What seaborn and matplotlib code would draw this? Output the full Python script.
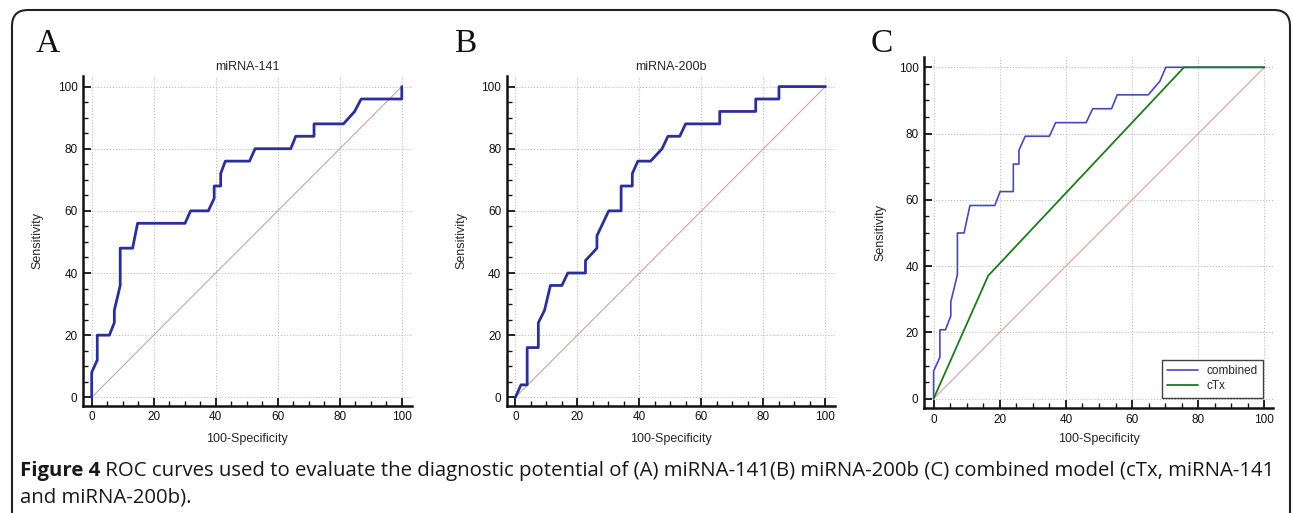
import matplotlib
matplotlib.use('Agg')
import matplotlib.pyplot as plt
import seaborn as sns
from matplotlib.ticker import MultipleLocator
from matplotlib.patches import FancyBboxPatch

# --- ROC data (x = 100-Specificity, y = Sensitivity) ---
a_fpr = [0, 0, 1.8, 1.8, 5.7, 7.3, 7.3, 9.2, 9.2, 13.2, 14.8, 30.1, 31.9, 37.6, 39.5,
         39.5, 41.6, 41.6, 43.1, 50.9, 52.7, 64.2, 65.8, 71.7, 71.7, 81.2, 84.8, 86.9, 100, 100]
a_tpr = [0, 8, 12, 20, 20, 24, 28, 36, 48, 48, 56, 56, 60, 60, 64,
         68, 68, 72, 76, 76, 80, 80, 84, 84, 88, 88, 92, 96, 96, 100]

b_fpr = [0, 1.8, 3.8, 3.8, 7.4, 7.4, 9.4, 11.3, 15.0, 16.9, 22.6, 22.6, 26.3, 26.3, 30.1, 34.1,
         34.1, 37.7, 37.7, 39.5, 43.6, 47.3, 49.2, 53.0, 54.9, 65.9, 65.9, 77.5, 77.5, 85.0, 85.0, 100]
b_tpr = [0, 4, 4, 16, 16, 24, 28, 36, 36, 40, 40, 44, 48, 52, 60, 60,
         68, 68, 72, 76, 76, 80, 84, 84, 88, 88, 92, 92, 96, 96, 100, 100]

comb_fpr = [0, 0, 1.9, 1.9, 3.6, 5.2, 5.2, 7.2, 7.2, 9.2, 11.0, 18.5, 20.1, 24.1, 24.1,
            25.8, 25.8, 27.7, 35.0, 36.9, 46.1, 48.1, 53.8, 55.5, 64.9, 68.4, 70.2, 100]
comb_tpr = [0, 8.3, 12.5, 20.8, 20.8, 25.0, 29.2, 37.5, 50.0, 50.0, 58.3, 58.3, 62.5, 62.5, 70.8,
            70.8, 75.0, 79.2, 79.2, 83.3, 83.3, 87.5, 87.5, 91.7, 91.7, 95.8, 100, 100]

ctx_fpr = [0, 16.5, 75.7, 100]
ctx_tpr = [0, 37.1, 100, 100]

diag = [0, 100]
ticks = [0, 20, 40, 60, 80, 100]

panel_titles = ['miRNA-141', 'miRNA-200b', '']
panel_letters = ['A', 'B', 'C']
caption_bold = 'Figure 4'
caption_rest = (' ROC curves used to evaluate the diagnostic potential of (A) miRNA-141(B) '
                'miRNA-200b (C) combined model (cTx, miRNA-141')
caption_line2 = 'and miRNA-200b).'

sns.set_style('white')
plt.rcParams['font.family'] = ['Liberation Sans', 'DejaVu Sans']

W, H = 1293, 513
fig = plt.figure(figsize=(W / 100, H / 100), dpi=100)


def px_axes(left, top, right, bottom):
    # axes from pixel box (origin top-left)
    return fig.add_axes([left / W, 1 - bottom / H, (right - left) / W, (bottom - top) / H])


def style_axes(ax, xlim, ylim, xlab_y, ylab_x):
    ax.set_xlim(*xlim)
    ax.set_ylim(*ylim)
    ax.set_xticks(ticks)
    ax.set_yticks(ticks)
    ax.xaxis.set_minor_locator(MultipleLocator(5))
    ax.yaxis.set_minor_locator(MultipleLocator(5))
    for s in ['top', 'right']:
        ax.spines[s].set_visible(False)
    for s in ['left', 'bottom']:
        ax.spines[s].set_linewidth(1.8)
        ax.spines[s].set_color('#111111')
    ax.tick_params(which='both', bottom=True, left=True, direction='in', colors='#111111')
    ax.tick_params(which='major', length=6, width=1.3, labelsize=8.5, pad=4)
    ax.tick_params(which='minor', length=3.5, width=1.0)
    ax.grid(which='major', ls=':', lw=0.8, color='#bdbdbd')
    ax.set_xlabel('100-Specificity', fontsize=9)
    ax.set_ylabel('Sensitivity', fontsize=9)
    ax.xaxis.set_label_coords(0.5, xlab_y)
    ax.yaxis.set_label_coords(ylab_x, 0.5)
    ax.set_axisbelow(True)


# --- Panel A ---
axA = px_axes(83, 76, 411.7, 405.7)
sns.lineplot(x=diag, y=diag, ax=axA, color='#d8a0a0', lw=0.8)
sns.lineplot(x=a_fpr, y=a_tpr, ax=axA, sort=False, estimator=None, color='#2a3097', lw=2.0)
style_axes(axA, (-2.8, 103.2), (-2.7, 103.4), -0.082, -0.119)
axA.set_title(panel_titles[0], fontsize=9, pad=4)

# --- Panel B ---
axB = px_axes(506.7, 76, 835.4, 405.7)
sns.lineplot(x=diag, y=diag, ax=axB, color='#d8a0a0', lw=0.8)
sns.lineplot(x=b_fpr, y=b_tpr, ax=axB, sort=False, estimator=None, color='#2a3097', lw=2.0)
style_axes(axB, (-2.8, 103.2), (-2.7, 103.4), -0.082, -0.119)
axB.set_title(panel_titles[1], fontsize=9, pad=4)

# --- Panel C ---
axC = px_axes(924, 56.7, 1273, 408.3)
sns.lineplot(x=diag, y=diag, ax=axC, color='#d8a0a0', lw=0.8)
sns.lineplot(x=comb_fpr, y=comb_tpr, ax=axC, sort=False, estimator=None,
             color='#4848b8', lw=1.2, label='combined')
sns.lineplot(x=ctx_fpr, y=ctx_tpr, ax=axC, sort=False, estimator=None,
             color='#1d7a1d', lw=1.3, label='cTx')
style_axes(axC, (-2.9, 102.6), (-2.9, 103.2), -0.071, -0.108)
leg = axC.legend(loc='lower right', bbox_to_anchor=(99.7, 0.3), bbox_transform=axC.transData,
                 fontsize=8.5, frameon=True, fancybox=False, borderaxespad=0,
                 handlelength=2.6, borderpad=0.45, labelspacing=0.25)
leg.get_frame().set_edgecolor('#111111')
leg.get_frame().set_linewidth(1.0)

# --- Panel letters ---
for x0, letter in zip([36, 454, 871], panel_letters):
    fig.text(x0 / W, 1 - 52 / H, letter, fontsize=24, family='Liberation Serif',
             ha='left', va='baseline', color='#111111')

# --- Rounded border ---
border = FancyBboxPatch((12, -40), 1278, H - 10 + 40, boxstyle='round,pad=0,rounding_size=16',
                        transform=None, fill=False, ec='#222222', lw=1.5)
fig.patches.append(border)

# --- Caption ---
cap_kw = dict(family='Open Sans', color='#1a1718', ha='left', va='baseline')
t1 = fig.text(20 / W, 1 - 476 / H, caption_bold, fontsize=13, fontweight='bold', **cap_kw)
t2 = fig.text(0, 1 - 476 / H, caption_rest, fontsize=13, **cap_kw)
t3 = fig.text(20 / W, 1 - 503 / H, caption_line2, fontsize=13, **cap_kw)

# fit the first caption line to the reference width
fig.canvas.draw()
r = fig.canvas.get_renderer()
for _ in range(3):
    b1 = t1.get_window_extent(r)
    t2.set_x(b1.x1 / W)
    fig.canvas.draw()
    b2 = t2.get_window_extent(r)
    width = b2.x1 - b1.x0
    fs = t1.get_fontsize() * 1263 / width
    for t in (t1, t2, t3):
        t.set_fontsize(fs)
    fig.canvas.draw()
b1 = t1.get_window_extent(r)
t2.set_x(b1.x1 / W)

fig.savefig('out.png', dpi=100)
